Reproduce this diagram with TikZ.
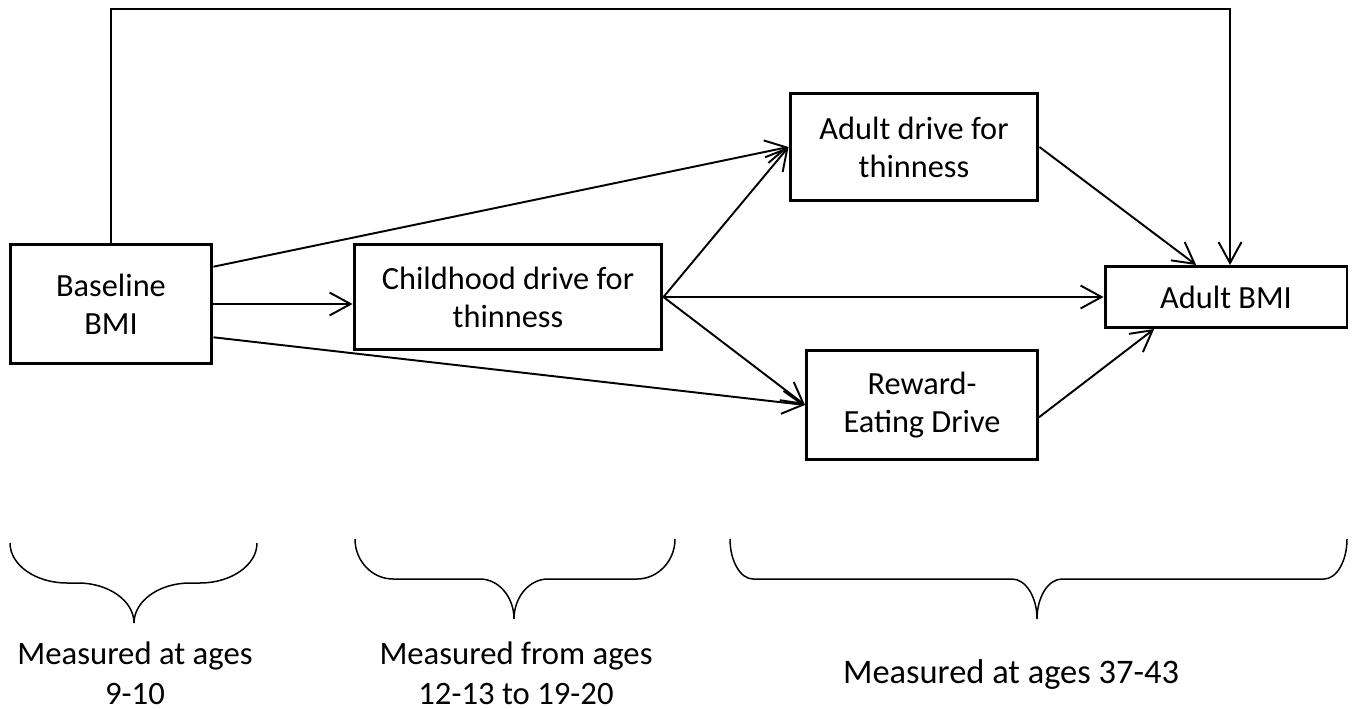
\documentclass[tikz,border=0pt]{standalone}
\usepackage{fontspec}
\setmainfont{Carlito}
\usetikzlibrary{arrows.meta}
\newcommand{\agebrace}[6]{% left, right, tip, end width, cusp width, top
  \draw[bracket] (#1,#6) .. controls (#1,#6+22) and (#1+#4*0.45,#6+40) .. (#1+#4,#6+40) -- (#3-#5,#6+40)
    .. controls (#3-#5*0.45,#6+40) and (#3,#6+58) .. (#3,#6+80)
    .. controls (#3,#6+58) and (#3+#5*0.45,#6+40) .. (#3+#5,#6+40)
    -- (#2-#4,#6+40) .. controls (#2-#4*0.45,#6+40) and (#2,#6+22) .. (#2,#6);}

\begin{document}
\begin{tikzpicture}[x=0.02cm,y=-0.02cm,
    box/.style={draw,line width=1.7pt,align=center,inner sep=2pt,font=\fontsize{18.4}{21.6}\selectfont},
    link/.style={-{Straight Barb[length=4.2mm,width=4.6mm]},line width=1.1pt},
    bracket/.style={line width=0.85pt},
    agelabel/.style={align=center,inner sep=0pt,font=\fontsize{18.6}{23}\selectfont}]
  \useasboundingbox (0,0) rectangle (1358,709);
  % boxes
  \node[box,minimum width=4.04cm,minimum height=2.4cm] (base) at (111,304) {Baseline\\BMI};
  \node[box,minimum width=6.16cm,minimum height=2.12cm] (child) at (508,297) {Childhood drive for\\thinness};
  \node[box,minimum width=4.96cm,minimum height=2.14cm] (adrive) at (914,147) {Adult drive for\\thinness};
  \node[box,minimum width=4.62cm,minimum height=2.18cm] (reward) at (922,405) {Reward-\\Eating Drive};
  \node[box,minimum width=4.84cm,minimum height=1.22cm] (abmi) at (1226,297) {Adult BMI};
  % paths
  \draw[link] (base.east) -- (base.east -| child.west);
  \draw[link] (base.20.6) -- (adrive.west);
  \draw[link] (base.-18) -- (reward.west);
  \draw[link] (child.east) -- (adrive.west);
  \draw[link] (child.east) -- (abmi.west);
  \draw[link] (child.east) -- (reward.west);
  \draw[link] (adrive.east) -- (abmi.133);
  \draw[link] (reward.-6.4) -- (abmi.204);
  \coordinate (drop) at (1230,9);
  \draw[link] (base.north) |- (drop) -- (drop |- abmi.north);
  % age groups
  \agebrace{10}{257}{134}{57}{56}{543}
  \agebrace{355}{675}{514}{38}{34}{539}
  \agebrace{730}{1347}{1037}{23}{25}{539}
  \node[agelabel] (lbl1) at (135,673) {Measured at ages\\9-10};
  \node[agelabel] (lbl2) at (516,673) {Measured from ages\\12-13 to 19-20};
  \node[agelabel,font=\fontsize{19.6}{23}\selectfont] (lbl3) at (1011,674) {Measured at ages 37-43};
\end{tikzpicture}
\end{document}
